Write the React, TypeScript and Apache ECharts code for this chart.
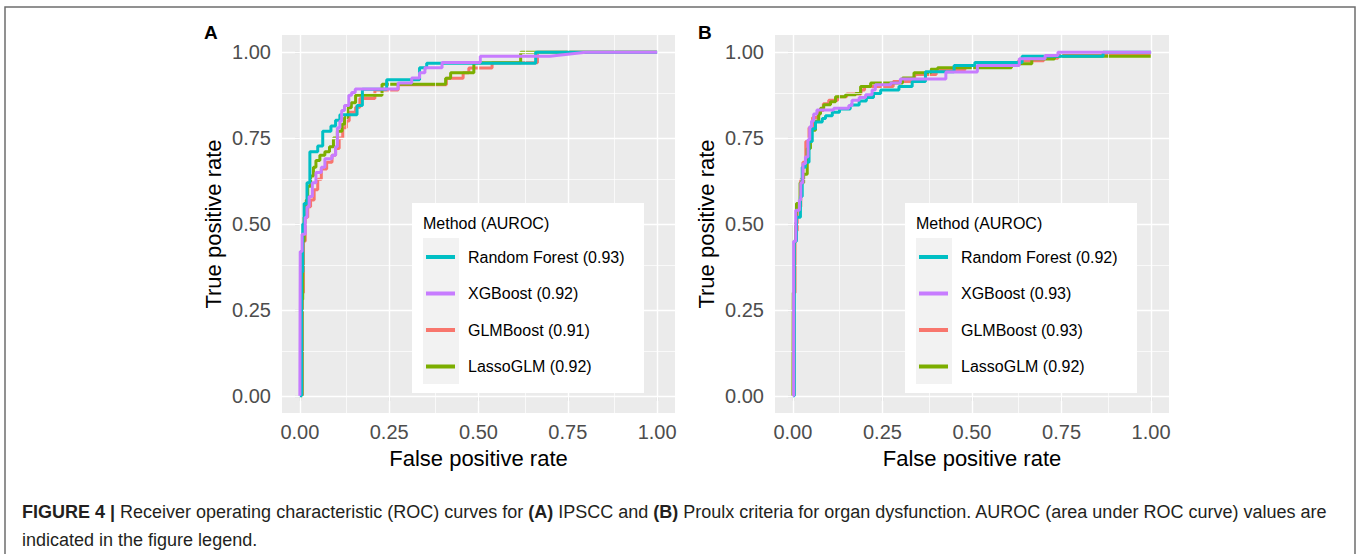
import React, { useEffect, useRef } from "react";
import * as echarts from "echarts";

type Pt = [number, number];

const tickValues = [0, 0.25, 0.5, 0.75, 1];
const minorValues = [0.125, 0.375, 0.625, 0.875];

const methodsA = ["Random Forest (0.93)", "XGBoost (0.92)", "GLMBoost (0.91)", "LassoGLM (0.92)"];
const methodsB = ["Random Forest (0.92)", "XGBoost (0.93)", "GLMBoost (0.93)", "LassoGLM (0.92)"];
const methodColors = ["#00BFC4", "#C77CFF", "#F8766D", "#7CAE00"];
// drawing order: GLMBoost, LassoGLM, Random Forest, XGBoost (on top)
const drawOrder = [2, 3, 0, 1];

// ---- Panel A (IPSCC) ROC curves: [FPR, TPR]
const rfA: Pt[] = [[0,0],[0.005,0],[0.005,0.36],[0.008,0.36],[0.008,0.5],[0.012,0.5],[0.012,0.56],[0.02,0.56],[0.02,0.62],[0.028,0.62],[0.028,0.71],[0.05,0.71],[0.05,0.727],[0.064,0.727],[0.064,0.77],[0.087,0.77],[0.087,0.785],[0.1,0.785],[0.1,0.802],[0.112,0.802],[0.112,0.818],[0.16,0.818],[0.16,0.845],[0.175,0.845],[0.175,0.892],[0.243,0.892],[0.243,0.92],[0.335,0.92],[0.335,0.955],[0.355,0.955],[0.355,0.968],[0.66,0.968],[0.66,1],[1,1]];
const xgbA: Pt[] = [[0,0],[0.001,0],[0.001,0.42],[0.006,0.42],[0.006,0.47],[0.015,0.47],[0.015,0.52],[0.02,0.52],[0.02,0.55],[0.026,0.55],[0.026,0.58],[0.035,0.58],[0.035,0.62],[0.045,0.62],[0.045,0.65],[0.06,0.65],[0.06,0.665],[0.07,0.665],[0.07,0.69],[0.09,0.69],[0.09,0.7],[0.1,0.7],[0.1,0.725],[0.105,0.725],[0.105,0.78],[0.112,0.78],[0.112,0.8],[0.117,0.8],[0.117,0.83],[0.125,0.83],[0.125,0.845],[0.137,0.845],[0.137,0.875],[0.145,0.875],[0.145,0.883],[0.155,0.883],[0.155,0.893],[0.275,0.893],[0.275,0.91],[0.313,0.91],[0.313,0.925],[0.335,0.925],[0.335,0.94],[0.35,0.94],[0.35,0.955],[0.398,0.955],[0.398,0.97],[0.505,0.97],[0.505,0.988],[0.7,0.988],[0.8,1],[1,1]];
const glmA: Pt[] = [[0,0],[0.007,0],[0.007,0.3],[0.01,0.3],[0.01,0.45],[0.015,0.45],[0.015,0.52],[0.022,0.52],[0.022,0.55],[0.03,0.55],[0.03,0.57],[0.04,0.57],[0.04,0.6],[0.05,0.6],[0.05,0.63],[0.06,0.63],[0.06,0.66],[0.075,0.66],[0.075,0.68],[0.09,0.68],[0.09,0.7],[0.1,0.7],[0.1,0.72],[0.11,0.72],[0.11,0.75],[0.12,0.75],[0.12,0.78],[0.13,0.78],[0.13,0.8],[0.138,0.8],[0.138,0.825],[0.156,0.825],[0.156,0.84],[0.168,0.84],[0.168,0.865],[0.21,0.865],[0.21,0.89],[0.275,0.89],[0.275,0.905],[0.41,0.905],[0.41,0.924],[0.457,0.924],[0.457,0.94],[0.473,0.94],[0.473,0.954],[0.538,0.954],[0.538,0.969],[0.665,0.969],[0.665,1],[1,1]];
const lassoA: Pt[] = [[0,0],[0.006,0],[0.006,0.28],[0.008,0.28],[0.008,0.45],[0.012,0.45],[0.012,0.52],[0.018,0.52],[0.018,0.57],[0.022,0.57],[0.022,0.61],[0.03,0.61],[0.03,0.64],[0.038,0.64],[0.038,0.665],[0.045,0.665],[0.045,0.685],[0.056,0.685],[0.056,0.7],[0.07,0.7],[0.07,0.71],[0.083,0.71],[0.083,0.725],[0.094,0.725],[0.094,0.75],[0.105,0.75],[0.105,0.77],[0.118,0.77],[0.118,0.79],[0.125,0.79],[0.125,0.81],[0.134,0.81],[0.134,0.838],[0.144,0.838],[0.144,0.853],[0.156,0.853],[0.156,0.875],[0.23,0.875],[0.23,0.907],[0.408,0.907],[0.408,0.924],[0.422,0.924],[0.422,0.94],[0.487,0.94],[0.487,0.969],[0.618,0.969],[0.618,1],[1,1]];

// ---- Panel B (Proulx) ROC curves: [FPR, TPR]
const rfB: Pt[] = [[0,0],[0.004,0],[0.004,0.45],[0.01,0.45],[0.01,0.52],[0.021,0.52],[0.021,0.58],[0.026,0.58],[0.026,0.665],[0.035,0.665],[0.035,0.68],[0.045,0.68],[0.045,0.74],[0.054,0.74],[0.054,0.777],[0.063,0.777],[0.063,0.797],[0.082,0.797],[0.082,0.807],[0.091,0.807],[0.091,0.815],[0.11,0.815],[0.11,0.825],[0.13,0.825],[0.13,0.835],[0.16,0.835],[0.16,0.846],[0.185,0.846],[0.185,0.858],[0.205,0.858],[0.205,0.868],[0.225,0.868],[0.225,0.88],[0.245,0.88],[0.245,0.89],[0.296,0.89],[0.296,0.9],[0.333,0.9],[0.333,0.915],[0.37,0.915],[0.37,0.943],[0.45,0.943],[0.45,0.961],[0.508,0.961],[0.508,0.97],[0.64,0.97],[0.64,0.988],[0.866,0.988],[0.866,1],[1,1]];
const xgbB: Pt[] = [[0,0],[0.002,0],[0.002,0.45],[0.008,0.45],[0.008,0.54],[0.018,0.54],[0.018,0.57],[0.022,0.57],[0.022,0.62],[0.028,0.62],[0.028,0.675],[0.035,0.675],[0.035,0.695],[0.042,0.695],[0.042,0.745],[0.047,0.745],[0.047,0.783],[0.052,0.783],[0.052,0.8],[0.058,0.8],[0.058,0.82],[0.067,0.82],[0.067,0.832],[0.114,0.832],[0.114,0.837],[0.156,0.837],[0.156,0.845],[0.165,0.845],[0.165,0.86],[0.185,0.86],[0.185,0.868],[0.203,0.868],[0.203,0.876],[0.221,0.876],[0.221,0.89],[0.23,0.89],[0.23,0.905],[0.273,0.905],[0.273,0.91],[0.3,0.91],[0.3,0.922],[0.427,0.922],[0.427,0.942],[0.515,0.942],[0.515,0.961],[0.632,0.961],[0.632,0.981],[0.704,0.981],[0.704,0.99],[0.74,0.99],[0.74,1],[1,1]];
const glmB: Pt[] = [[0,0],[0.003,0],[0.003,0.3],[0.006,0.3],[0.006,0.48],[0.012,0.48],[0.012,0.55],[0.022,0.55],[0.022,0.63],[0.028,0.63],[0.028,0.68],[0.036,0.68],[0.036,0.74],[0.045,0.74],[0.045,0.78],[0.055,0.78],[0.055,0.81],[0.07,0.81],[0.07,0.83],[0.085,0.83],[0.085,0.85],[0.1,0.85],[0.1,0.86],[0.125,0.86],[0.125,0.87],[0.15,0.87],[0.15,0.878],[0.19,0.878],[0.19,0.89],[0.2,0.89],[0.2,0.9],[0.28,0.9],[0.28,0.915],[0.34,0.915],[0.34,0.935],[0.4,0.935],[0.4,0.948],[0.48,0.948],[0.48,0.958],[0.55,0.958],[0.55,0.966],[0.63,0.966],[0.63,0.975],[0.7,0.975],[0.7,0.982],[0.74,0.982],[0.74,0.99],[1,0.99]];
const lassoB: Pt[] = [[0,0],[0.001,0],[0.001,0.3],[0.004,0.3],[0.004,0.5],[0.01,0.5],[0.01,0.56],[0.02,0.56],[0.02,0.62],[0.03,0.62],[0.03,0.645],[0.04,0.645],[0.04,0.72],[0.049,0.72],[0.049,0.773],[0.063,0.773],[0.063,0.8],[0.072,0.8],[0.072,0.82],[0.077,0.82],[0.077,0.837],[0.086,0.837],[0.086,0.847],[0.105,0.847],[0.105,0.856],[0.119,0.856],[0.119,0.87],[0.147,0.87],[0.147,0.876],[0.175,0.876],[0.175,0.88],[0.189,0.88],[0.189,0.9],[0.217,0.9],[0.217,0.91],[0.306,0.91],[0.306,0.925],[0.338,0.925],[0.338,0.94],[0.385,0.94],[0.385,0.95],[0.404,0.95],[0.404,0.955],[0.61,0.955],[0.61,0.966],[0.667,0.966],[0.667,0.98],[0.73,0.98],[0.73,0.988],[1,0.988]];

const curvesA = [rfA, xgbA, glmA, lassoA];
const curvesB = [rfB, xgbB, glmB, lassoB];

const captionLine1 =
  "{b|FIGURE 4 |} Receiver operating characteristic (ROC) curves for {b|(A)} IPSCC and {b|(B)} Proulx criteria for organ dysfunction. AUROC (area under ROC curve) values are";
const captionLine2 = "indicated in the figure legend.";

const FONT = "'Liberation Sans', Arial, Helvetica, sans-serif";

export default function App() {
  const ref = useRef<HTMLDivElement>(null);

  useEffect(() => {
    if (!ref.current) return;
    const chart = echarts.init(ref.current, undefined, { renderer: "svg" });

    const grids = [
      { left: 282, top: 35, width: 393, height: 378 },
      { left: 775, top: 35, width: 394, height: 378 },
    ].map((g) => ({ ...g, show: true, backgroundColor: "#EBEBEB", borderWidth: 0 }));

    const xAxes = [0, 1].map((gi) => ({
      type: "value",
      gridIndex: gi,
      min: -0.05,
      max: 1.05,
      axisLine: { show: false },
      splitLine: { show: false },
      axisTick: { show: true, length: 5, customValues: tickValues, lineStyle: { color: "#333333", width: 1.1 } },
      axisLabel: {
        customValues: tickValues,
        formatter: (v: number) => v.toFixed(2),
        color: "#4D4D4D",
        fontSize: 20,
        fontFamily: FONT,
        margin: 9,
      },
      name: "False positive rate",
      nameLocation: "middle",
      nameGap: 34,
      nameTextStyle: { color: "#000", fontSize: 22, fontFamily: FONT },
    }));

    const yAxes = [0, 1].map((gi) => ({
      type: "value",
      gridIndex: gi,
      min: -0.05,
      max: 1.05,
      axisLine: { show: false },
      splitLine: { show: false },
      axisTick: { show: true, length: 5, customValues: tickValues, lineStyle: { color: "#333333", width: 1.1 } },
      axisLabel: {
        customValues: tickValues,
        formatter: (v: number) => v.toFixed(2),
        color: "#4D4D4D",
        fontSize: 20,
        fontFamily: FONT,
        margin: 11,
      },
      name: "True positive rate",
      nameLocation: "middle",
      nameGap: 58,
      nameTextStyle: { color: "#000", fontSize: 22, fontFamily: FONT },
    }));

    const gridLineSeries = [0, 1].map((gi) => ({
      type: "line",
      xAxisIndex: gi,
      yAxisIndex: gi,
      data: [],
      silent: true,
      z: 1,
      markLine: {
        silent: true,
        symbol: ["none", "none"],
        label: { show: false },
        emphasis: { disabled: true },
        data: [
          ...minorValues.map((v) => ({ xAxis: v, lineStyle: { color: "#FFFFFF", width: 0.7, type: "solid" } })),
          ...minorValues.map((v) => ({ yAxis: v, lineStyle: { color: "#FFFFFF", width: 0.7, type: "solid" } })),
          ...tickValues.map((v) => ({ xAxis: v, lineStyle: { color: "#FFFFFF", width: 1.4, type: "solid" } })),
          ...tickValues.map((v) => ({ yAxis: v, lineStyle: { color: "#FFFFFF", width: 1.4, type: "solid" } })),
        ],
      },
    }));

    const curveSeries: any[] = [];
    [
      { names: methodsA, curves: curvesA, gi: 0 },
      { names: methodsB, curves: curvesB, gi: 1 },
    ].forEach(({ names, curves, gi }) => {
      drawOrder.forEach((k, order) => {
        curveSeries.push({
          type: "line",
          name: names[k],
          xAxisIndex: gi,
          yAxisIndex: gi,
          data: curves[k],
          symbol: "none",
          showSymbol: false,
          color: methodColors[k],
          lineStyle: { color: methodColors[k], width: 3 },
          z: 3 + order,
          silent: true,
        });
      });
    });

    const legendCfg = (names: string[], left: number) => ({
      data: names,
      orient: "vertical",
      left,
      top: 247,
      padding: 0,
      itemWidth: 29,
      itemHeight: 4,
      itemGap: 16.5,
      icon: "rect",
      selectedMode: false,
      z: 20,
      textStyle: { fontSize: 16, color: "#000", fontFamily: FONT, lineHeight: 20, padding: [0, 0, 0, 8] },
    });

    const legendBox = (x: number) => [
      { type: "rect", z: 10, shape: { x, y: 203, width: 232, height: 190 }, style: { fill: "#FFFFFF" } },
      { type: "rect", z: 11, shape: { x: x + 11, y: 238, width: 36, height: 146 }, style: { fill: "#F2F2F2" } },
      {
        type: "text",
        z: 21,
        x: x + 11,
        y: 223,
        style: { text: "Method (AUROC)", fontSize: 16, fontFamily: FONT, fill: "#000", verticalAlign: "middle" },
      },
    ];

    const option: any = {
      animation: false,
      backgroundColor: "#FFFFFF",
      grid: grids,
      xAxis: xAxes,
      yAxis: yAxes,
      legend: [legendCfg(methodsA, 426), legendCfg(methodsB, 919)],
      series: [...gridLineSeries, ...curveSeries],
      graphic: [
        {
          type: "rect",
          z: 0,
          shape: { x: 5, y: 7, width: 1350, height: 600 },
          style: { fill: "none", stroke: "#6E6E6E", lineWidth: 1.5 },
        },
        { type: "text", x: 204, y: 32, style: { text: "A", fontSize: 19, fontWeight: "bold", fontFamily: FONT, fill: "#000", verticalAlign: "middle" } },
        { type: "text", x: 698, y: 32, style: { text: "B", fontSize: 19, fontWeight: "bold", fontFamily: FONT, fill: "#000", verticalAlign: "middle" } },
        ...legendBox(412),
        ...legendBox(905),
        {
          type: "text",
          x: 22,
          y: 512,
          style: {
            text: captionLine1,
            fontSize: 18,
            fontFamily: FONT,
            fill: "#231F20",
            verticalAlign: "middle",
            rich: { b: { fontWeight: "bold", fontSize: 18, fontFamily: FONT, fill: "#231F20" } },
          },
        },
        {
          type: "text",
          x: 22,
          y: 540,
          style: { text: captionLine2, fontSize: 18, fontFamily: FONT, fill: "#231F20", verticalAlign: "middle" },
        },
      ],
    };

    chart.setOption(option);
    return () => chart.dispose();
  }, []);

  return (
    <div
      ref={ref}
      style={{ position: "absolute", left: 0, top: 0, width: 1357, height: 554 }}
    />
  );
}
